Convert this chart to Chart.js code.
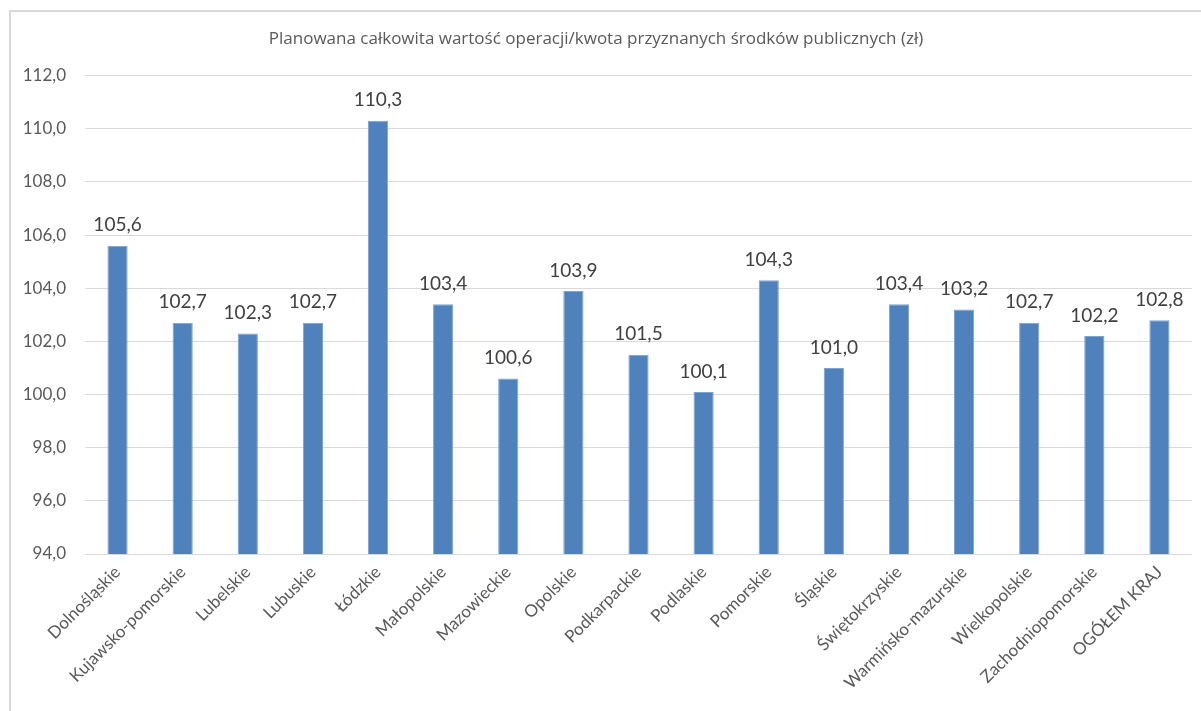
<!DOCTYPE html>
<html lang="pl">
<head>
<meta charset="utf-8">
<title>Planowana całkowita wartość operacji</title>
<script src="https://cdn.jsdelivr.net/npm/chart.js@4/dist/chart.umd.min.js"></script>
<style>
    html, body { margin: 0; padding: 0; background: #ffffff; overflow: hidden; }
    #wrap { position: relative; width: 1201px; height: 711px; }
</style>
</head>
<body>
<div id="wrap"><canvas id="wykres" width="1201" height="711"></canvas></div>
<script>
const wojewodztwa = [
    "Dolnośląskie", "Kujawsko-pomorskie", "Lubelskie", "Lubuskie", "Łódzkie",
    "Małopolskie", "Mazowieckie", "Opolskie", "Podkarpackie", "Podlaskie",
    "Pomorskie", "Śląskie", "Świętokrzyskie", "Warmińsko-mazurskie",
    "Wielkopolskie", "Zachodniopomorskie", "OGÓŁEM KRAJ"
];
const wartosci = [
    105.6, 102.7, 102.3, 102.7, 110.3, 103.4, 100.6, 103.9, 101.5,
    100.1, 104.3, 101.0, 103.4, 103.2, 102.7, 102.2, 102.8
];
const osY = { min: 94, max: 112, krok: 2 };
const tytul = "Planowana całkowita wartość operacji/kwota przyznanych środków publicznych (zł)";

const FONT = "Lato, 'Open Sans', sans-serif";

function formatuj(v, miejsca) {
    return v.toFixed(miejsca).replace(".", ",");
}

// ramka wokół całego wykresu
const ramka = {
    id: "ramka",
    beforeDraw(chart) {
        const ctx = chart.ctx;
        ctx.save();
        ctx.fillStyle = "#ffffff";
        ctx.fillRect(0, 0, chart.width, chart.height);
        ctx.strokeStyle = "#d9d9d9";
        ctx.lineWidth = 2;
        ctx.strokeRect(10, 11, chart.width + 50, chart.height + 50);
        ctx.restore();
    }
};

// etykiety z wartościami nad słupkami
const etykiety = {
    id: "etykiety",
    afterDatasetsDraw(chart) {
        const ctx = chart.ctx;
        const meta = chart.getDatasetMeta(0);
        ctx.save();
        ctx.font = "19px " + FONT;
        ctx.fillStyle = "#404040";
        ctx.textAlign = "center";
        ctx.textBaseline = "bottom";
        meta.data.forEach((bar, i) => {
            ctx.fillText(formatuj(wartosci[i], 1), bar.x, bar.y - 11);
        });
        ctx.restore();
    }
};

const ctx = document.getElementById("wykres").getContext("2d");
new Chart(ctx, {
    type: "bar",
    data: {
        labels: wojewodztwa,
        datasets: [{
            data: wartosci,
            backgroundColor: "#4f81bd",
            borderColor: "#7ea3d0",
            borderWidth: 1,
            barPercentage: 0.31,
            categoryPercentage: 1
        }]
    },
    options: {
        responsive: false,
        animation: false,
        layout: { padding: { top: 11, left: 0, right: 9, bottom: 0 } },
        plugins: {
            legend: { display: false },
            tooltip: { enabled: false },
            title: {
                display: true,
                text: tytul,
                color: "#595959",
                font: { family: "'Open Sans', sans-serif", size: 17, weight: "normal", lineHeight: 1.1 },
                padding: { top: 19, bottom: 27 }
            }
        },
        scales: {
            x: {
                grid: { display: false, drawTicks: false },
                border: { display: false },
                ticks: {
                    color: "#595959",
                    font: { family: FONT, size: 17 },
                    minRotation: 45,
                    maxRotation: 45,
                    autoSkip: false,
                    padding: 8
                },
                afterFit(scale) { scale.height = 157; }
            },
            y: {
                min: osY.min,
                max: osY.max,
                grid: { color: "#d9d9d9", lineWidth: 1, drawTicks: false },
                border: { display: false },
                ticks: {
                    stepSize: osY.krok,
                    color: "#595959",
                    font: { family: FONT, size: 17 },
                    padding: 19,
                    callback: (v) => formatuj(v, 1)
                },
                afterFit(scale) { scale.width = 85; }
            }
        }
    },
    plugins: [ramka, etykiety]
});
</script>
</body>
</html>
